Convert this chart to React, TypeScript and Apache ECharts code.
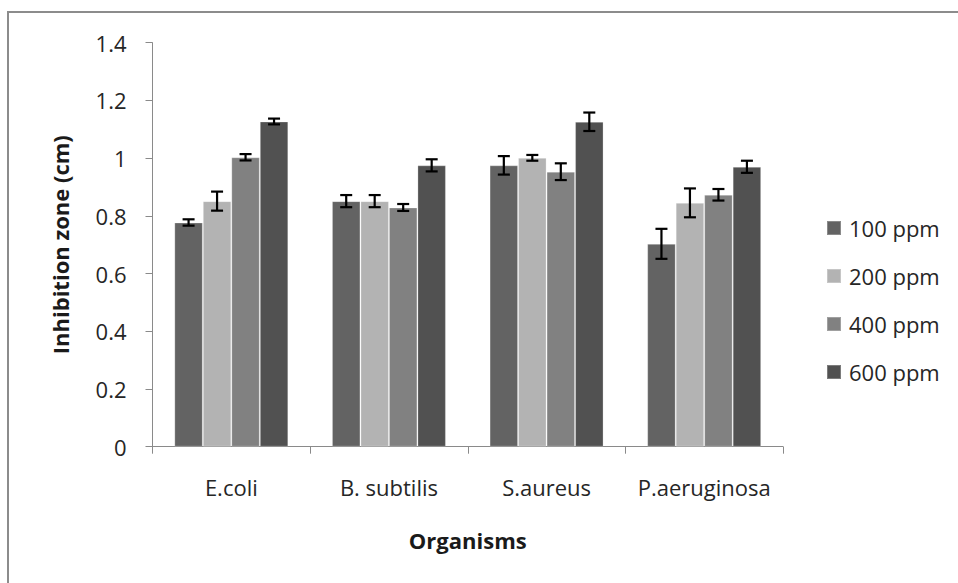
import React, { useEffect, useRef } from "react";
import * as echarts from "echarts";

const categories = ["E.coli", "B. subtilis", "S.aureus", "P.aeruginosa"];
const seriesNames = ["100 ppm", "200 ppm", "400 ppm", "600 ppm"];
const values100 = [0.777, 0.851, 0.975, 0.703];
const values200 = [0.851, 0.851, 1.001, 0.845];
const values400 = [1.003, 0.829, 0.953, 0.873];
const values600 = [1.127, 0.975, 1.126, 0.97];
const errors100 = [0.011, 0.021, 0.032, 0.052];
const errors200 = [0.033, 0.021, 0.01, 0.05];
const errors400 = [0.011, 0.012, 0.029, 0.02];
const errors600 = [0.01, 0.021, 0.032, 0.021];
const yTicks = [0, 0.2, 0.4, 0.6, 0.8, 1, 1.2, 1.4];

const colors = ["#636363", "#b3b3b3", "#818181", "#515151"];
const FONT = "Open Sans";
const FS = 22;
const BAR_CAT_GAP = 0.277;

export default function App() {
  const ref = useRef<HTMLDivElement>(null);
  useEffect(() => {
    document.body.style.margin = "0";
    if (!ref.current) return;
    const chart = echarts.init(ref.current, null, { renderer: "svg" });
    const allValues = [values100, values200, values400, values600];
    const allErrors = [errors100, errors200, errors400, errors600];
    const errData: any[] = [];
    allValues.forEach((vals, s) => {
      vals.forEach((v, c) => {
        errData.push([c, v - allErrors[s][c], v + allErrors[s][c], s]);
      });
    });
    const option: any = {
      animation: false,
      backgroundColor: "#ffffff",
      textStyle: { fontFamily: FONT },
      graphic: [
        {
          type: "rect",
          shape: { x: 8, y: 12, width: 1000, height: 700 },
          style: { fill: "none", stroke: "#8c8c8c", lineWidth: 2 },
          silent: true,
        },
      ],
      grid: { left: 152.5, right: 175, top: 42.7, bottom: 136.3 },
      legend: {
        data: seriesNames,
        orient: "vertical",
        left: 826,
        top: 214,
        padding: 0,
        itemWidth: 14,
        itemHeight: 14,
        itemGap: 20,
        icon: "rect",
        textStyle: {
          fontFamily: FONT,
          fontSize: FS,
          lineHeight: 28,
          color: "#262626",
          padding: [0, 0, 0, 3],
        },
      },
      xAxis: {
        type: "category",
        data: categories,
        name: "Organisms",
        nameLocation: "middle",
        nameGap: 82,
        nameTextStyle: { fontFamily: FONT, fontSize: FS, fontWeight: "bold", color: "#1a1a1a" },
        axisLine: { lineStyle: { color: "#8a8a8a", width: 1 } },
        axisTick: { show: true, interval: 0, length: 7, lineStyle: { color: "#8a8a8a" } },
        axisLabel: { interval: 0, fontFamily: FONT, fontSize: FS, color: "#262626", margin: 29 },
      },
      yAxis: {
        type: "value",
        min: 0,
        max: 1.4,
        interval: 0.2,
        name: "Inhibition zone (cm)",
        nameLocation: "middle",
        nameGap: 82,
        nameTextStyle: { fontFamily: FONT, fontSize: FS, fontWeight: "bold", color: "#1a1a1a" },
        splitLine: { show: false },
        axisLine: { show: true, lineStyle: { color: "#8a8a8a", width: 1 } },
        axisTick: { show: true, length: 7, lineStyle: { color: "#8a8a8a" } },
        axisLabel: {
          fontFamily: FONT,
          fontSize: FS,
          color: "#262626",
          margin: 26,
          formatter: (v: number) => {
            const t = yTicks.find((x) => Math.abs(x - v) < 1e-6);
            return t === undefined ? "" : String(t);
          },
        },
      },
      series: [
        ...allValues.map((vals, i) => ({
          type: "bar",
          name: seriesNames[i],
          data: vals,
          barGap: "0%",
          barCategoryGap: BAR_CAT_GAP * 100 + "%",
          itemStyle: { color: colors[i], borderColor: "rgba(255,255,255,0.25)", borderWidth: 1 },
        })),
        {
          type: "custom",
          name: "errors",
          data: errData,
          z: 10,
          renderItem: (params: any, api: any) => {
            const c = api.value(0);
            const lo = api.value(1);
            const hi = api.value(2);
            const s = api.value(3);
            const catW = api.size([1, 0])[0];
            const groupW = catW * (1 - BAR_CAT_GAP);
            const bw = groupW / 4;
            const pLo = api.coord([c, lo]);
            const pHi = api.coord([c, hi]);
            const x = pLo[0] - groupW / 2 + bw * (s + 0.5);
            const cap = 6;
            const style = { stroke: "#000000", lineWidth: 2.2 };
            return {
              type: "group",
              children: [
                { type: "line", shape: { x1: x, y1: pLo[1], x2: x, y2: pHi[1] }, style },
                { type: "line", shape: { x1: x - cap, y1: pLo[1], x2: x + cap, y2: pLo[1] }, style },
                { type: "line", shape: { x1: x - cap, y1: pHi[1], x2: x + cap, y2: pHi[1] }, style },
              ],
            };
          },
        },
      ],
    };
    chart.setOption(option);
    return () => chart.dispose();
  }, []);
  return <div ref={ref} style={{ width: 958, height: 583 }} />;
}
